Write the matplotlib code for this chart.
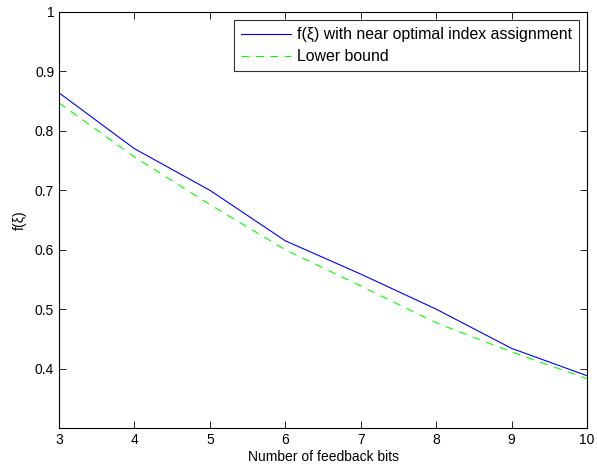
import matplotlib
matplotlib.use("Agg")
import matplotlib.pyplot as plt

bits = [3, 4, 5, 6, 7, 8, 9, 10]
f_near_optimal = [0.864, 0.770, 0.700, 0.615, 0.559, 0.500, 0.434, 0.388]
lower_bound = [0.847, 0.756, 0.676, 0.600, 0.539, 0.477, 0.428, 0.383]
xticks = [3, 4, 5, 6, 7, 8, 9, 10]
yticks = [0.4, 0.5, 0.6, 0.7, 0.8, 0.9, 1.0]
yticklabels = ["0.4", "0.5", "0.6", "0.7", "0.8", "0.9", "1"]

plt.rcParams['font.family'] = ['Liberation Sans', 'DejaVu Sans']

fig = plt.figure(figsize=(5.97, 4.70), dpi=100)
ax = fig.add_axes([59/597, 1 - 428/470, 528/597, 416/470])

ax.plot(bits, f_near_optimal, color='#0000ff', lw=0.8,
        label='f(ξ) with near optimal index assignment')
ax.plot(bits, lower_bound, color='#00ff00', lw=0.8, linestyle=(0, (7, 6)),
        label='Lower bound')

ax.set_xlim(3, 10)
ax.set_ylim(0.3, 1.0)
ax.set_xticks(xticks)
ax.set_yticks(yticks)
ax.set_yticklabels(yticklabels)
ax.tick_params(direction='in', top=True, right=True, labelsize=10, length=5, width=0.6)
for s in ax.spines.values():
    s.set_linewidth(0.8)

ax.set_xlabel('Number of feedback bits', fontsize=10, labelpad=2)
ax.set_ylabel('f(ξ)', fontsize=10, labelpad=6)

leg = ax.legend(loc='upper right', fontsize=11.4, frameon=True, fancybox=False,
                edgecolor='black', handlelength=3.2, borderaxespad=0.5,
                handletextpad=0.35, borderpad=0.45, labelspacing=0.45)
leg.get_frame().set_linewidth(0.8)

fig.savefig('out.png', dpi=100)
